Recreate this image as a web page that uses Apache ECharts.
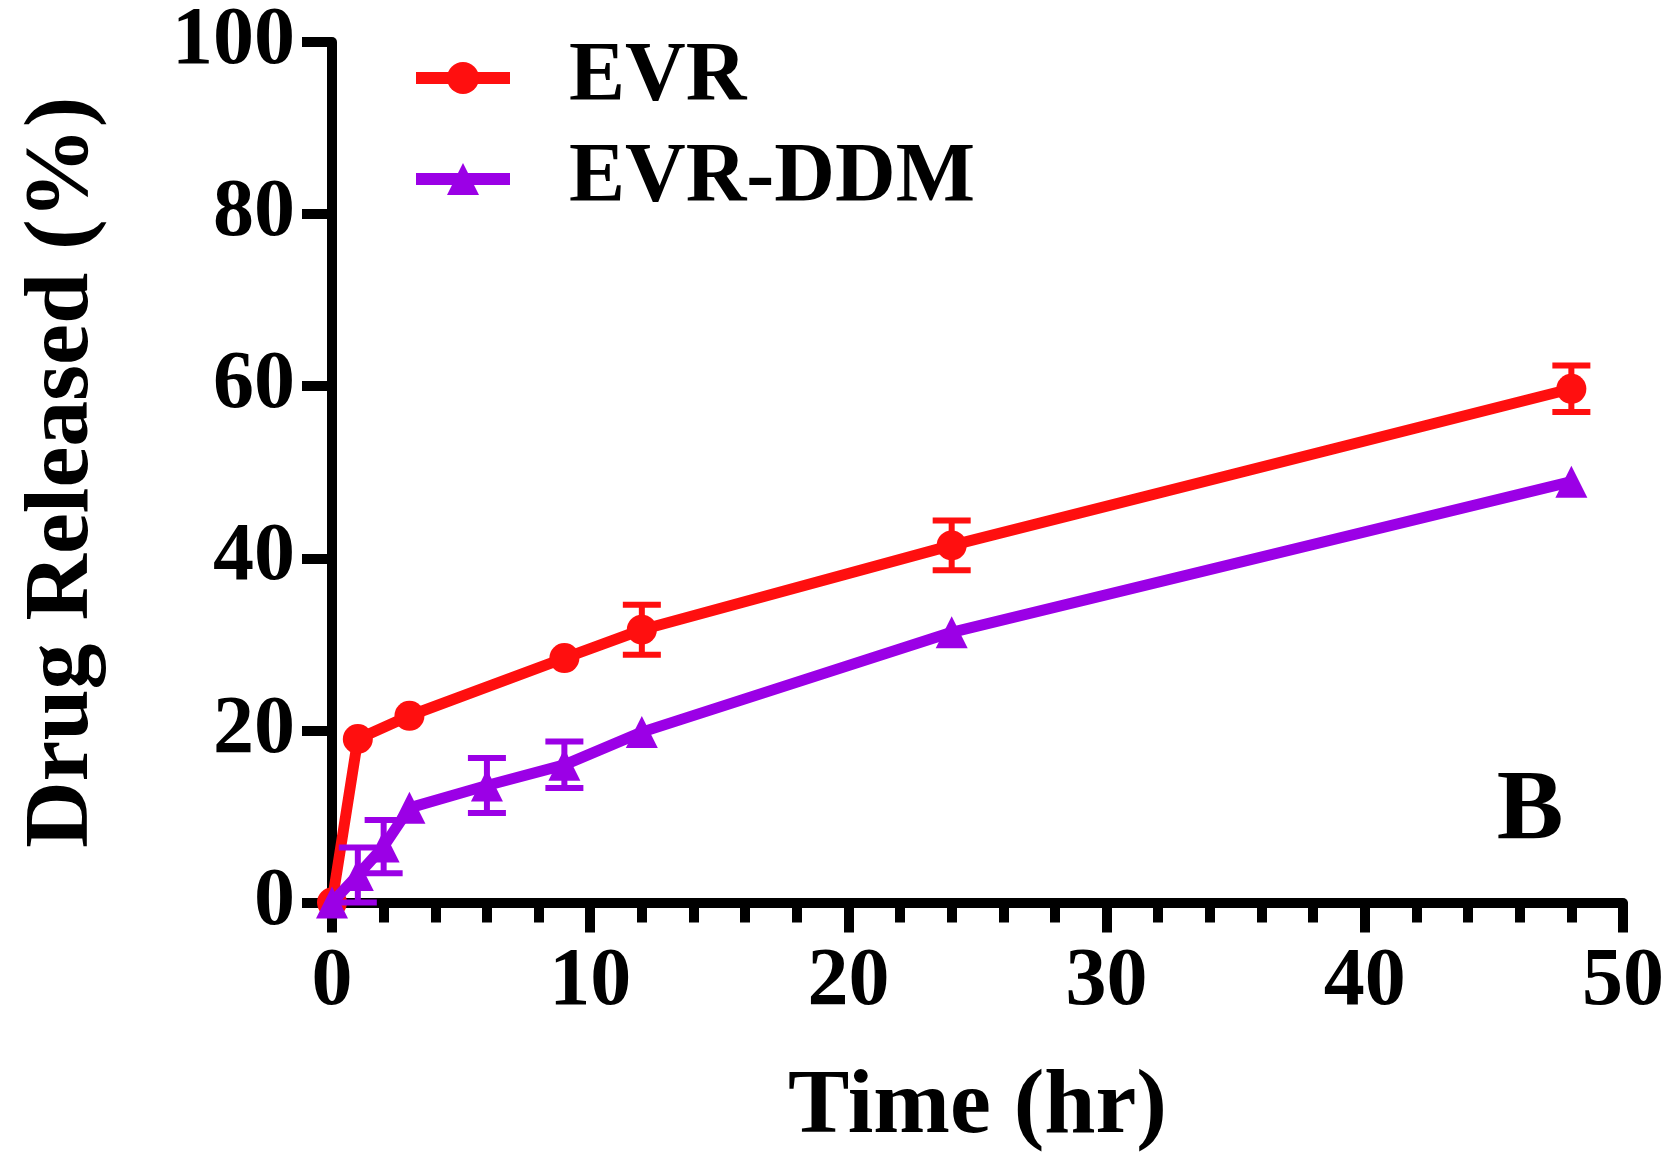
<!DOCTYPE html>
<html>
<head>
<meta charset="utf-8">
<script src="https://cdn.jsdelivr.net/npm/echarts@6/dist/echarts.min.js"></script>
<style>
  html, body { margin: 0; padding: 0; background: #fff; }
  #chart { width: 1670px; height: 1167px; }
</style>
</head>
<body>
<div id="chart"></div>
<script>
// release data
const evrTimes = [0, 1, 3, 9, 12, 24, 48];
const evrMean = [0, 19, 21.7, 28.4, 31.7, 41.5, 59.7];
const evrSd = [0, 0, 0, 0, 2.9, 2.9, 2.7];

const ddmTimes = [0, 1, 2, 3, 6, 9, 12, 24, 48];
const ddmMean = [0, 3.2, 6.5, 11, 13.6, 16, 19.8, 31.4, 48.9];
const ddmSd = [0, 3.2, 3.1, 0, 3.2, 2.7, 0, 0, 0];

const xTicks = [0, 10, 20, 30, 40, 50];
const yTicks = [0, 20, 40, 60, 80, 100];

const RED = '#ff0f0f';
const PURPLE = '#9b00e6';
const FONT = '"Liberation Serif", "Times New Roman", serif';

const chart = echarts.init(document.getElementById('chart'));

const errorBar = (color) => (params, api) => {
    const x = api.value(0), m = api.value(1), sd = api.value(2);
    if (!sd) return null;
    const hi = api.coord([x, m + sd]);
    const lo = api.coord([x, m - sd]);
    const half = 19;
    const style = { stroke: color, lineWidth: 6 };
    return {
        type: 'group',
        children: [
            { type: 'line', shape: { x1: hi[0], y1: hi[1], x2: lo[0], y2: lo[1] }, style },
            { type: 'line', shape: { x1: hi[0] - half, y1: hi[1], x2: hi[0] + half, y2: hi[1] }, style },
            { type: 'line', shape: { x1: lo[0] - half, y1: lo[1], x2: lo[0] + half, y2: lo[1] }, style }
        ]
    };
};

const option = {
    animation: false,
    backgroundColor: '#fff',
    grid: { left: 332, right: 47, top: 42, bottom: 264.5 },
    legend: {
        data: ['EVR', 'EVR-DDM'],
        orient: 'vertical',
        left: 405,
        top: 31,
        itemWidth: 94,
        itemHeight: 40,
        itemGap: 17,
        lineStyle: { width: 12 },
        textStyle: {
            fontFamily: FONT,
            fontWeight: 'bold',
            fontSize: 84,
            lineHeight: 60,
            color: '#000',
            padding: [0, 0, 0, 54]
        }
    },
    xAxis: {
        type: 'value',
        min: 0,
        max: 50,
        interval: 10,
        name: 'Time (hr)',
        nameLocation: 'middle',
        nameGap: 160,
        nameTextStyle: { fontFamily: FONT, fontWeight: 'bold', fontSize: 92, color: '#000' },
        axisLine: { lineStyle: { color: '#000', width: 10 } },
        axisTick: { length: 30, lineStyle: { color: '#000', width: 10 } },
        minorTick: { show: true, splitNumber: 5, length: 20, lineStyle: { color: '#000', width: 10 } },
        splitLine: { show: false },
        axisLabel: {
            margin: 39,
            fontFamily: FONT,
            fontWeight: 'bold',
            fontSize: 82,
            color: '#000',
            formatter: (v) => xTicks.includes(v) ? String(v) : ''
        }
    },
    yAxis: {
        type: 'value',
        min: 0,
        max: 100,
        interval: 20,
        name: 'Drug Released (%)',
        nameLocation: 'middle',
        nameGap: 223,
        nameTextStyle: { fontFamily: FONT, fontWeight: 'bold', fontSize: 92, color: '#000' },
        axisLine: { show: true, lineStyle: { color: '#000', width: 10 } },
        axisTick: { show: true, length: 30, lineStyle: { color: '#000', width: 10 } },
        splitLine: { show: false },
        axisLabel: {
            margin: 37,
            fontFamily: FONT,
            fontWeight: 'bold',
            fontSize: 82,
            color: '#000',
            formatter: (v) => yTicks.includes(v) ? String(v) : ''
        }
    },
    graphic: [{
        type: 'text',
        x: 1530,
        y: 812,
        style: {
            text: 'B',
            font: 'bold 100px ' + FONT,
            fill: '#000',
            align: 'center',
            verticalAlign: 'middle'
        }
    }],
    series: [
        {
            name: 'EVR SD',
            type: 'custom',
            renderItem: errorBar(RED),
            encode: { x: 0, y: 1 },
            data: evrTimes.map((t, i) => [t, evrMean[i], evrSd[i]]),
            z: 2
        },
        {
            name: 'EVR',
            type: 'line',
            color: RED,
            symbol: 'circle',
            symbolSize: 30,
            lineStyle: { width: 11, color: RED },
            itemStyle: { color: RED },
            data: evrTimes.map((t, i) => [t, evrMean[i]]),
            z: 3
        },
        {
            name: 'EVR-DDM SD',
            type: 'custom',
            renderItem: errorBar(PURPLE),
            encode: { x: 0, y: 1 },
            data: ddmTimes.map((t, i) => [t, ddmMean[i], ddmSd[i]]),
            z: 4
        },
        {
            name: 'EVR-DDM',
            type: 'line',
            color: PURPLE,
            symbol: 'triangle',
            symbolSize: 32,
            lineStyle: { width: 11, color: PURPLE },
            itemStyle: { color: PURPLE },
            data: ddmTimes.map((t, i) => [t, ddmMean[i]]),
            z: 5
        }
    ]
};

chart.setOption(option);
</script>
</body>
</html>
